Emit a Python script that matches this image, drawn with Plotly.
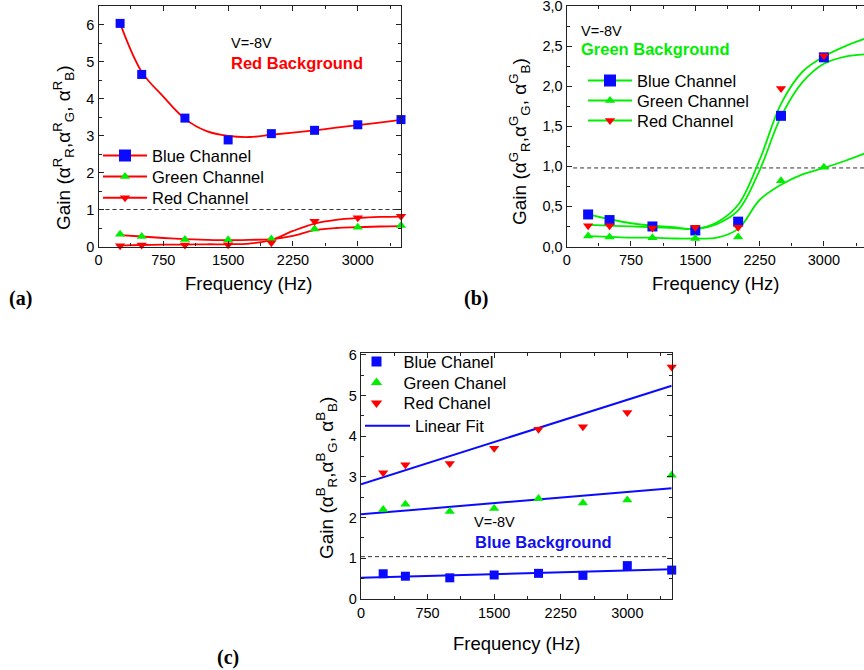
import plotly.graph_objects as go

W, H = 864, 670

# ---------------- data ----------------
freq = [250, 500, 1000, 1500, 2000, 2500, 3000, 3500]
fit_freq = [250, 500, 750, 1000, 1250, 1500, 1750, 2000, 2250, 2500, 2750, 3000, 3250, 3500]

# (a) Red background
a_blue = [6.03, 4.65, 3.47, 2.88, 3.05, 3.14, 3.29, 3.43]
a_green = [0.33, 0.27, 0.19, 0.18, 0.20, 0.47, 0.52, 0.57]
a_red = [0.02, 0.04, 0.04, 0.05, 0.10, 0.68, 0.78, 0.82]
a_blue_fit = [6.03, 4.72, 4.05, 3.45, 3.12, 2.99, 2.96, 3.02, 3.08, 3.14, 3.21, 3.28, 3.35, 3.42]
a_green_fit = [0.31, 0.27, 0.23, 0.20, 0.18, 0.17, 0.18, 0.20, 0.29, 0.44, 0.50, 0.52, 0.54, 0.55]
a_red_fit = [0.02, 0.04, 0.05, 0.05, 0.06, 0.06, 0.08, 0.17, 0.42, 0.62, 0.72, 0.77, 0.80, 0.81]

# (b) Green background
b_blue = [0.40, 0.33, 0.25, 0.20, 0.31, 1.63, 2.36, 2.41]
b_green = [0.13, 0.12, 0.11, 0.10, 0.12, 0.82, 0.99, 1.17]
b_red = [0.26, 0.26, 0.23, 0.24, 0.24, 1.97, 2.38, 2.62]
b_blue_fit = [0.40, 0.34, 0.29, 0.26, 0.24, 0.22, 0.28, 0.45, 0.95, 1.62, 2.05, 2.28, 2.37, 2.40]
b_red_fit = [0.27, 0.26, 0.25, 0.24, 0.23, 0.22, 0.30, 0.52, 1.08, 1.78, 2.18, 2.37, 2.50, 2.60]
b_green_fit = [0.13, 0.12, 0.11, 0.11, 0.10, 0.10, 0.11, 0.22, 0.58, 0.77, 0.90, 0.98, 1.07, 1.17]

# (c) Blue background
c_blue = [0.62, 0.56, 0.52, 0.59, 0.63, 0.58, 0.82, 0.71]
c_green = [2.20, 2.33, 2.15, 2.22, 2.47, 2.36, 2.43, 3.04]
c_red = [3.10, 3.30, 3.33, 3.70, 4.17, 4.23, 4.58, 5.70]
c_fit_freq = [0, 3500]
c_blue_fit = [0.52, 0.73]
c_green_fit = [2.08, 2.72]
c_red_fit = [2.82, 5.24]

# unity reference lines
a_ref_x, a_ref_y = [0, 3500], [1.0, 1.0]
b_ref_x, b_ref_y = [75, 3500], [0.98, 0.98]
c_ref_x, c_ref_y = [0, 3440], [1.04, 1.04]

b_ytickvals = [0.0, 0.5, 1.0, 1.5, 2.0, 2.5, 3.0]
b_yticktext = ["0,0", "0,5", "1,0", "1,5", "2,0", "2,5", "3,0"]

# ---------------- style ----------------
FONT = "Liberation Sans, Arial, sans-serif"
BLUE = "#0a0aff"
GREEN = "#00ee00"
RED = "#ff0000"
AXC = "#222222"


def px(x):
    return x / W


def py(y):
    return 1 - y / H


fig = go.Figure()


def markers(x, y, sym, color, size, xa, ya, clip=True):
    fig.add_trace(go.Scatter(x=x, y=y, mode="markers", xaxis=xa, yaxis=ya,
                             marker=dict(symbol=sym, color=color, size=size, line=dict(width=0)),
                             showlegend=False, cliponaxis=clip, hoverinfo="skip"))


def curve(x, y, color, xa, ya, shape="spline", width=1.8):
    fig.add_trace(go.Scatter(x=x, y=y, mode="lines", xaxis=xa, yaxis=ya,
                             line=dict(color=color, width=width, shape=shape, smoothing=1.0),
                             showlegend=False, hoverinfo="skip"))


def refline(x, y, xa, ya):
    fig.add_trace(go.Scatter(x=x, y=y, mode="lines", xaxis=xa, yaxis=ya,
                             line=dict(color="#333333", width=1, dash="4px,3px"),
                             showlegend=False, hoverinfo="skip"))


# (a)
refline(a_ref_x, a_ref_y, "x", "y")
curve(fit_freq, a_blue_fit, RED, "x", "y")
curve(fit_freq, a_green_fit, RED, "x", "y")
curve(fit_freq, a_red_fit, RED, "x", "y")
markers(freq, a_blue, "square", BLUE, 9, "x", "y", clip=False)
markers(freq, a_green, "triangle-up", GREEN, 9, "x", "y", clip=False)
markers(freq, a_red, "triangle-down", RED, 9, "x", "y", clip=False)

# (b)
refline(b_ref_x, b_ref_y, "x2", "y2")
curve(fit_freq, b_blue_fit, GREEN, "x2", "y2")
curve(fit_freq, b_red_fit, GREEN, "x2", "y2")
curve(fit_freq, b_green_fit, GREEN, "x2", "y2")
markers(freq, b_blue, "square", BLUE, 10, "x2", "y2", clip=False)
markers(freq, b_green, "triangle-up", GREEN, 9, "x2", "y2", clip=False)
markers(freq, b_red, "triangle-down", RED, 9, "x2", "y2", clip=False)

# (c)
refline(c_ref_x, c_ref_y, "x3", "y3")
curve(c_fit_freq, c_red_fit, BLUE, "x3", "y3", shape="linear", width=2)
curve(c_fit_freq, c_green_fit, BLUE, "x3", "y3", shape="linear", width=2)
curve(c_fit_freq, c_blue_fit, BLUE, "x3", "y3", shape="linear", width=2)
markers(freq, c_blue, "square", BLUE, 9, "x3", "y3", clip=False)
markers(freq, c_green, "triangle-up", GREEN, 9, "x3", "y3", clip=False)
markers(freq, c_red, "triangle-down", RED, 9, "x3", "y3", clip=False)

# legends: one legend box per row so each row sits exactly where the reference has it
legend_layout = {}
leg_rows = [
    # name, mode, line colour, symbol, marker colour, marker size, left px, row-centre px, itemwidth
    ("Blue Channel", "lines+markers", RED, "square", BLUE, 12, 98, 155.7, 44),
    ("Green Channel", "lines+markers", RED, "triangle-up", GREEN, 9, 98, 176.7, 44),
    ("Red Channel", "lines+markers", RED, "triangle-down", RED, 9, 98, 198.0, 44),
    ("Blue Channel", "lines+markers", GREEN, "square", BLUE, 12, 583, 80.7, 44),
    ("Green Channel", "lines+markers", GREEN, "triangle-up", GREEN, 9, 583, 100.7, 44),
    ("Red Channel", "lines+markers", GREEN, "triangle-down", RED, 9, 583, 120.7, 44),
    ("Blue Chanel", "markers", BLUE, "square", BLUE, 10, 349.5, 361.7, 44),
    ("Green Chanel", "markers", BLUE, "triangle-up", GREEN, 10, 349.5, 382.7, 44),
    ("Red Chanel", "markers", BLUE, "triangle-down", RED, 10, 349.5, 403.3, 44),
    ("Linear Fit", "lines", BLUE, "square", BLUE, 10, 360, 426.0, 45),
]
for i, (name, mode, lc, sym, mc, ms, lx, ly, iw) in enumerate(leg_rows):
    lid = "legend" if i == 0 else "legend%d" % (i + 1)
    fig.add_trace(go.Scatter(x=[None], y=[None], mode=mode, name=name, legend=lid,
                             line=dict(color=lc, width=2),
                             marker=dict(symbol=sym, color=mc, size=ms, line=dict(width=0)),
                             xaxis="x", yaxis="y", hoverinfo="skip"))
    legend_layout[lid] = dict(x=px(lx), y=py(ly), xanchor="left", yanchor="middle",
                              bgcolor="rgba(0,0,0,0)", borderwidth=0, itemwidth=iw,
                              font=dict(family=FONT, size=16.5, color="black"))


def xax(domain, rng, anchor, mirror="allticks"):
    return dict(domain=domain, range=rng, anchor=anchor, showline=True, linecolor=AXC, linewidth=1.3,
                mirror=mirror, ticks="inside", ticklen=5, tickwidth=1.2, tickcolor=AXC,
                tick0=0, dtick=750, showgrid=False, zeroline=False, automargin=False,
                ticklabeloverflow="allow",
                tickfont=dict(family=FONT, size=14.5, color="black"),
                minor=dict(ticks="inside", ticklen=3, tickwidth=1, tickcolor=AXC, dtick=375, tick0=0, showgrid=False))


def yax(domain, rng, anchor, dtick, mdtick, mirror="allticks", **kw):
    d = dict(domain=domain, range=rng, anchor=anchor, showline=True, linecolor=AXC, linewidth=1.3,
             mirror=mirror, ticks="inside", ticklen=5, tickwidth=1.2, tickcolor=AXC,
             tick0=0, dtick=dtick, showgrid=False, zeroline=False, automargin=False,
             ticklabeloverflow="allow",
             tickfont=dict(family=FONT, size=14.5, color="black"),
             minor=dict(ticks="inside", ticklen=3, tickwidth=1, tickcolor=AXC, dtick=mdtick, tick0=0, showgrid=False))
    d.update(kw)
    return d


annotations = []


def text(x, y, s, size, color="black", bold=False, xanchor="left", angle=0, family=FONT):
    if bold:
        s = "<b>" + s + "</b>"
    annotations.append(dict(x=px(x), y=py(y), xref="paper", yref="paper", text=s, showarrow=False,
                            xanchor=xanchor, yanchor="middle", textangle=angle,
                            font=dict(family=family, size=size, color=color)))


text(228.7, 42.7, "V=-8V", 14.5)
text(228.7, 63.3, "Red Background", 16.5, RED, True)
text(579.3, 30.7, "V=-8V", 14.5)
text(579.3, 49.3, "Green Background", 16.5, GREEN, True)
text(472.3, 521.7, "V=-8V", 14.5)
text(473.3, 542.3, "Blue Background", 16.5, "#1010ee", True)

text(248.5, 283, "Frequency (Hz)", 18.5, xanchor="center")
text(715.7, 283, "Frequency (Hz)", 18.5, xanchor="center")
text(516, 643, "Frequency (Hz)", 18.5, xanchor="center")


def gain(c):
    return ("Gain (α<sup>%s</sup><sub>R</sub>,α<sup>%s</sup><sub>G</sub>, α<sup>%s</sup><sub>B</sub>)" % (c, c, c))


text(63, 148, gain("R"), 19, xanchor="center", angle=-90)
text(520, 142, gain("G"), 19, xanchor="center", angle=-90)
text(326, 478, gain("B"), 19, xanchor="center", angle=-90)

SERIF = "Liberation Serif, Times New Roman, serif"
text(20, 298, "(a)", 20, bold=True, xanchor="center", family=SERIF)
text(476, 298, "(b)", 20, bold=True, xanchor="center", family=SERIF)
text(228, 657, "(c)", 20, bold=True, xanchor="center", family=SERIF)

fig.update_layout(
    width=W, height=H, autosize=False,
    margin=dict(l=0, r=0, t=0, b=0, pad=0, autoexpand=False),
    paper_bgcolor="white", plot_bgcolor="white",
    font=dict(family=FONT, color="black"),
    xaxis=xax([px(98.5), px(401)], [0, 3500], "y"),
    yaxis=yax([py(246.5), py(6)], [0, 6.5], "x", 1, 0.5),
    xaxis2=xax([px(566.7), 1.0], [0, 3468], "y2"),
    yaxis2=yax([py(246.5), py(5.7)], [0, 3.004], "x2", 0.5, 0.25, mirror=False,
               tickmode="array", tickvals=b_ytickvals, ticktext=b_yticktext),
    xaxis3=xax([px(361), px(671.7)], [0, 3500], "y3"),
    yaxis3=yax([py(599), py(352.7)], [0, 6.05], "x3", 1, 0.5),
    annotations=annotations,
    showlegend=True,
    **legend_layout,
)

fig.write_html("out.html", config={"displayModeBar": False},
               post_script="document.body.style.margin='0px';document.body.style.padding='0px';"
                           "document.documentElement.style.overflow='hidden';")
